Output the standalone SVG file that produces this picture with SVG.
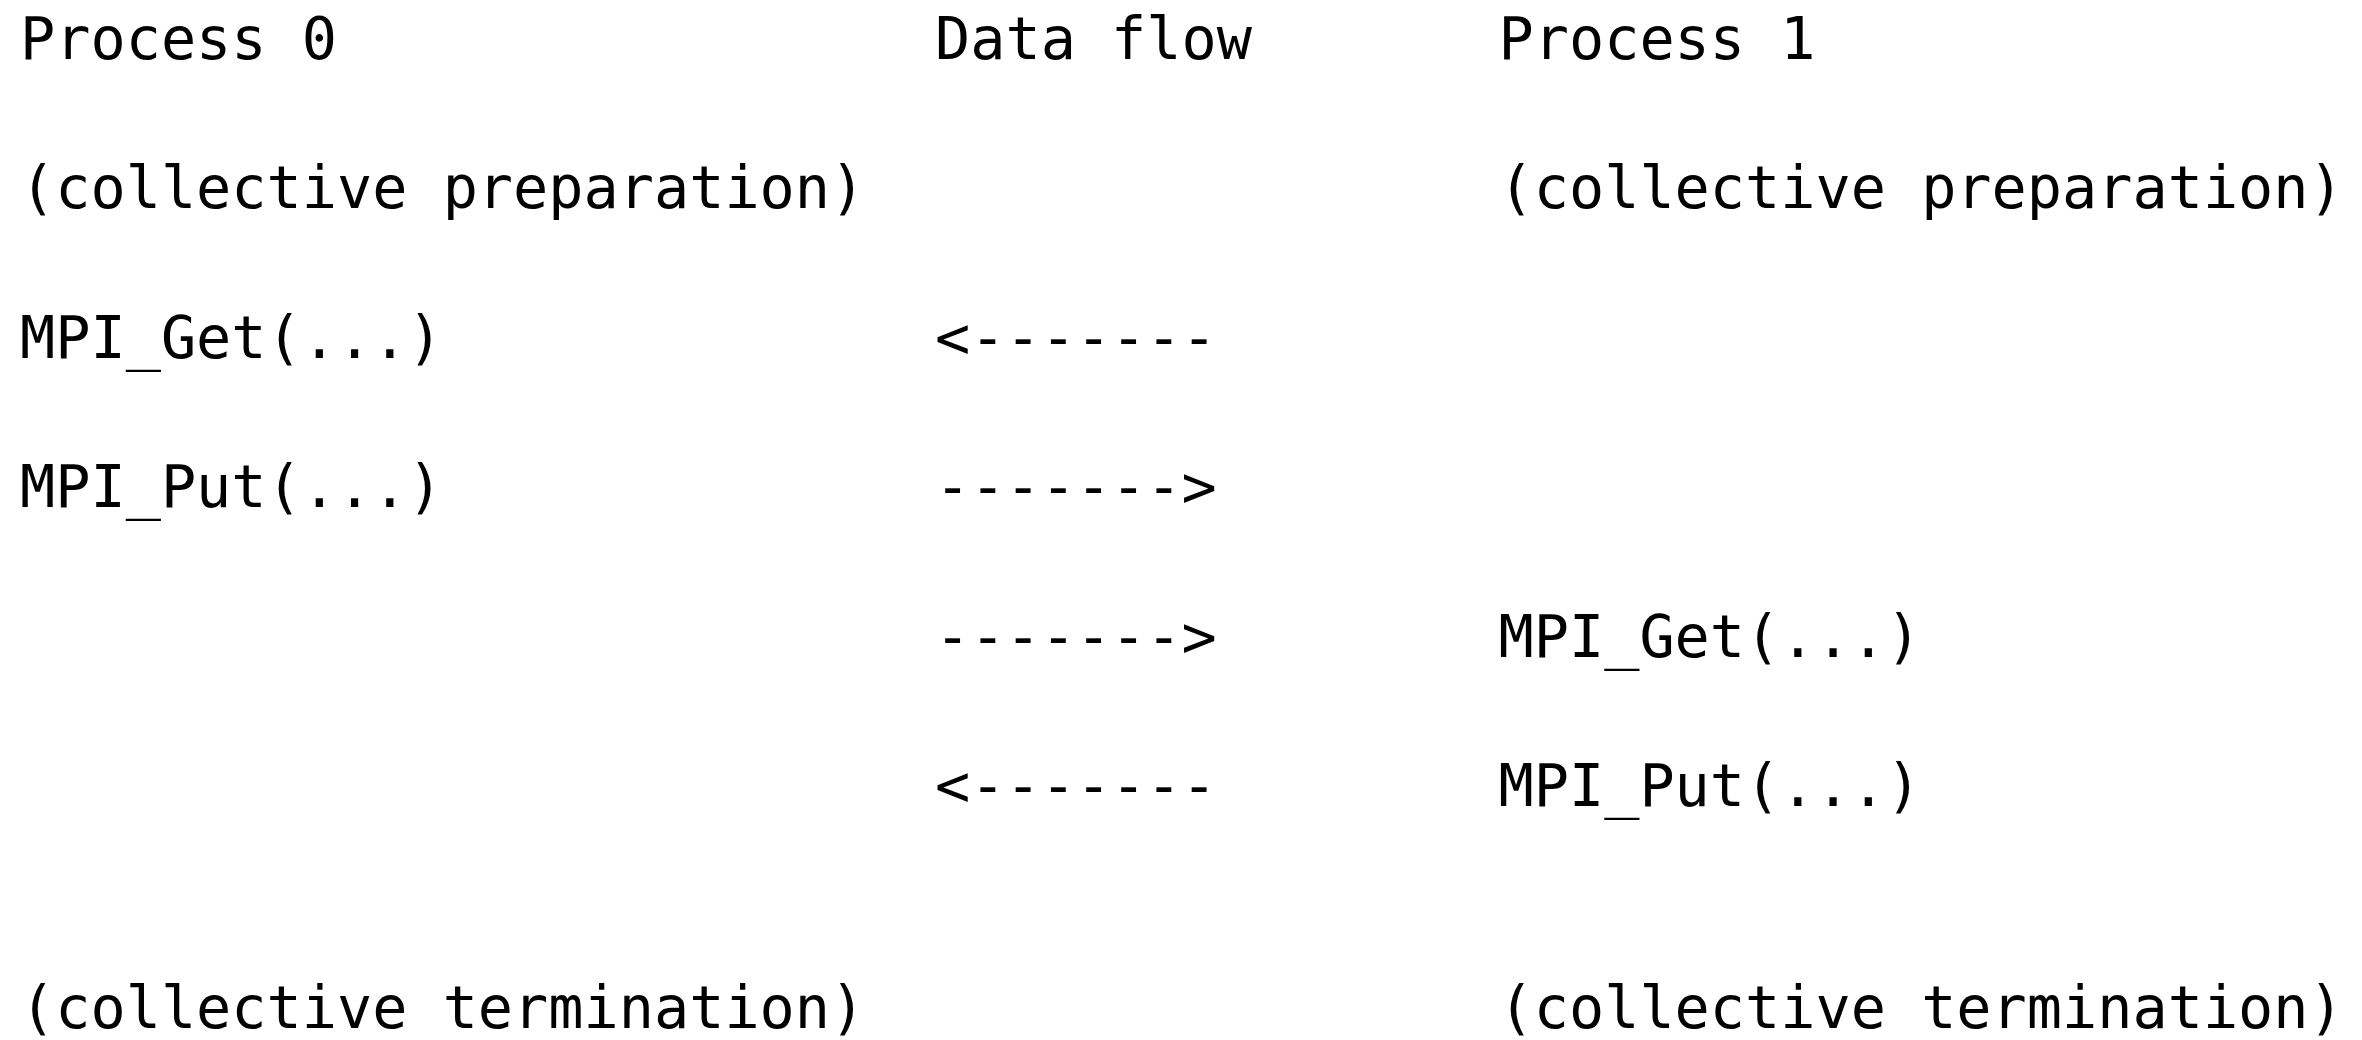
<svg xmlns="http://www.w3.org/2000/svg" width="2362" height="1040" viewBox="0 0 2362 1040">
  <style>
    .t { font-family: "DejaVu Sans Mono", "Liberation Mono", monospace; font-size: 58.5px; fill: #000; white-space: pre; }
  </style>
  <rect x="0" y="0" width="2362" height="1040" fill="#ffffff"/>

  <!-- Process 0 column -->
  <g id="p0-title"><text class="t" x="20" y="59">Process 0</text></g>
  <g id="p0-prep"><text class="t" x="20" y="208">(collective preparation)</text></g>
  <g id="p0-get"><text class="t" x="20" y="358">MPI_Get(...)</text></g>
  <g id="p0-put"><text class="t" x="20" y="507">MPI_Put(...)</text></g>
  <g id="p0-term"><text class="t" x="20" y="1028">(collective termination)</text></g>

  <!-- Data flow column header -->
  <g id="flow-title"><text class="t" x="935" y="59">Data flow</text></g>

  <!-- Process 1 column -->
  <g id="p1-title"><text class="t" x="1498.5" y="59">Process 1</text></g>
  <g id="p1-prep"><text class="t" x="1498.5" y="208">(collective preparation)</text></g>
  <g id="p1-get"><text class="t" x="1498.5" y="656.5">MPI_Get(...)</text></g>
  <g id="p1-put"><text class="t" x="1498.5" y="806">MPI_Put(...)</text></g>
  <g id="p1-term"><text class="t" x="1498.5" y="1028">(collective termination)</text></g>

  <!-- ASCII data-flow arrows -->
  <g id="connectors">
    <text class="t" x="935" y="358">&lt;-------</text>
    <text class="t" x="935" y="507">-------&gt;</text>
    <text class="t" x="935" y="656.5">-------&gt;</text>
    <text class="t" x="935" y="806">&lt;-------</text>
  </g>
</svg>
